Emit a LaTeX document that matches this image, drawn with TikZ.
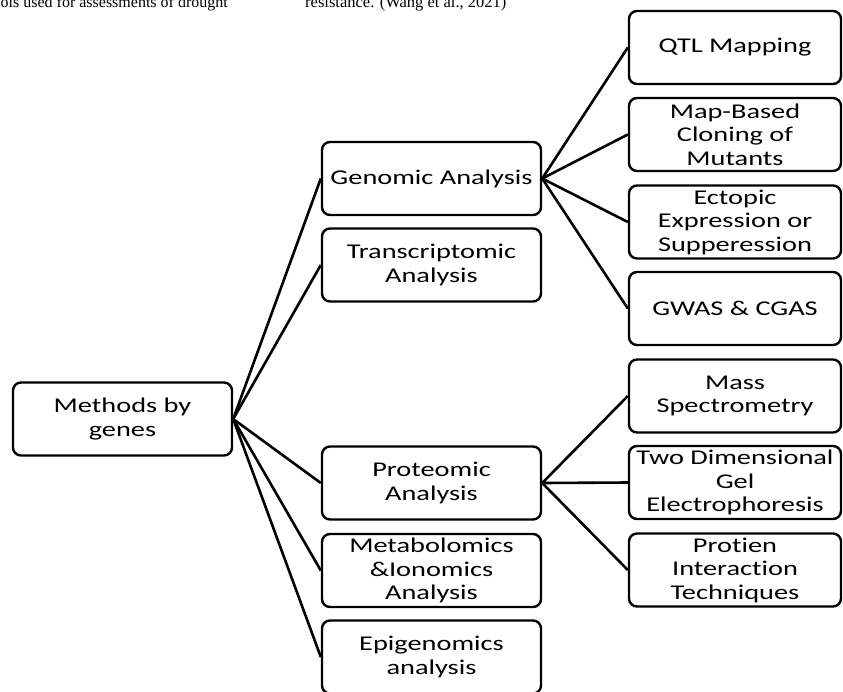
\documentclass[tikz,border=0pt]{standalone}
\usepackage{fontspec}
\setmainfont{Carlito}[FakeStretch=1.35,Ligatures=CommonOff]
\newfontfamily\capfont{Liberation Serif}
\usepackage{tikz}
\begin{document}
\begin{tikzpicture}[x=1pt,y=-1pt,
    box/.style={draw,line width=2.4pt,rounded corners=8pt,align=center,inner sep=2pt,
      minimum height=73pt,font=\fontsize{21}{23.5}\selectfont},
    wbox/.style={box,minimum width=219pt},
    nbox/.style={box,minimum width=212pt},
    link/.style={line width=2.6pt}]
      \useasboundingbox (0,0) rectangle (843,691);
      \node[anchor=base west,inner sep=0pt,font=\capfont\fontsize{16}{18}\selectfont] (capa) at (0.5,7) {ols used for assessments of drought};
      \node[anchor=base west,inner sep=0pt,font=\capfont\fontsize{16.5}{18}\selectfont] (capb) at (305,7) {resistance. (Wang et al., 2021)};
      \node[wbox] (genes) at (122.5,419) {Methods by\\genes};
      \node[wbox] (genomic) at (431.5,178.5) {Genomic Analysis};
      \node[wbox] (trans) at (431.5,265) {Transcriptomic\\Analysis};
      \node[wbox] (prot) at (431.5,483) {Proteomic\\Analysis};
      \node[wbox] (meta) at (431.5,570.5) {Metabolomics\\\&Ionomics\\Analysis};
      \node[wbox] (epi) at (431.5,657) {Epigenomics\\analysis};
      \node[nbox] (qtl) at (735,47.5) {QTL Mapping};
      \node[nbox] (clon) at (735,134.5) {Map-Based\\Cloning of\\Mutants};
      \node[nbox] (ecto) at (735,222) {Ectopic\\Expression or\\Supperession};
      \node[nbox] (gwas) at (735,308.5) {GWAS \& CGAS};
      \node[nbox] (mass) at (735,396) {Mass\\Spectrometry};
      \node[nbox] (gel) at (735,482.5) {Two Dimensional\\Gel\\Electrophoresis};
      \node[nbox] (inter) at (735,570) {Protien\\Interaction\\Techniques};
      \foreach \b in {genomic,trans,prot,meta,epi}{
      \draw[link] (genes.east) -- (\b.west);
      }
      \foreach \b in {qtl,clon,ecto,gwas}{
      \draw[link] (genomic.east) -- (\b.west);
      }
      \foreach \b in {mass,gel,inter}{
      \draw[link] (prot.east) -- (\b.west);
      }
\end{tikzpicture}
\end{document}
